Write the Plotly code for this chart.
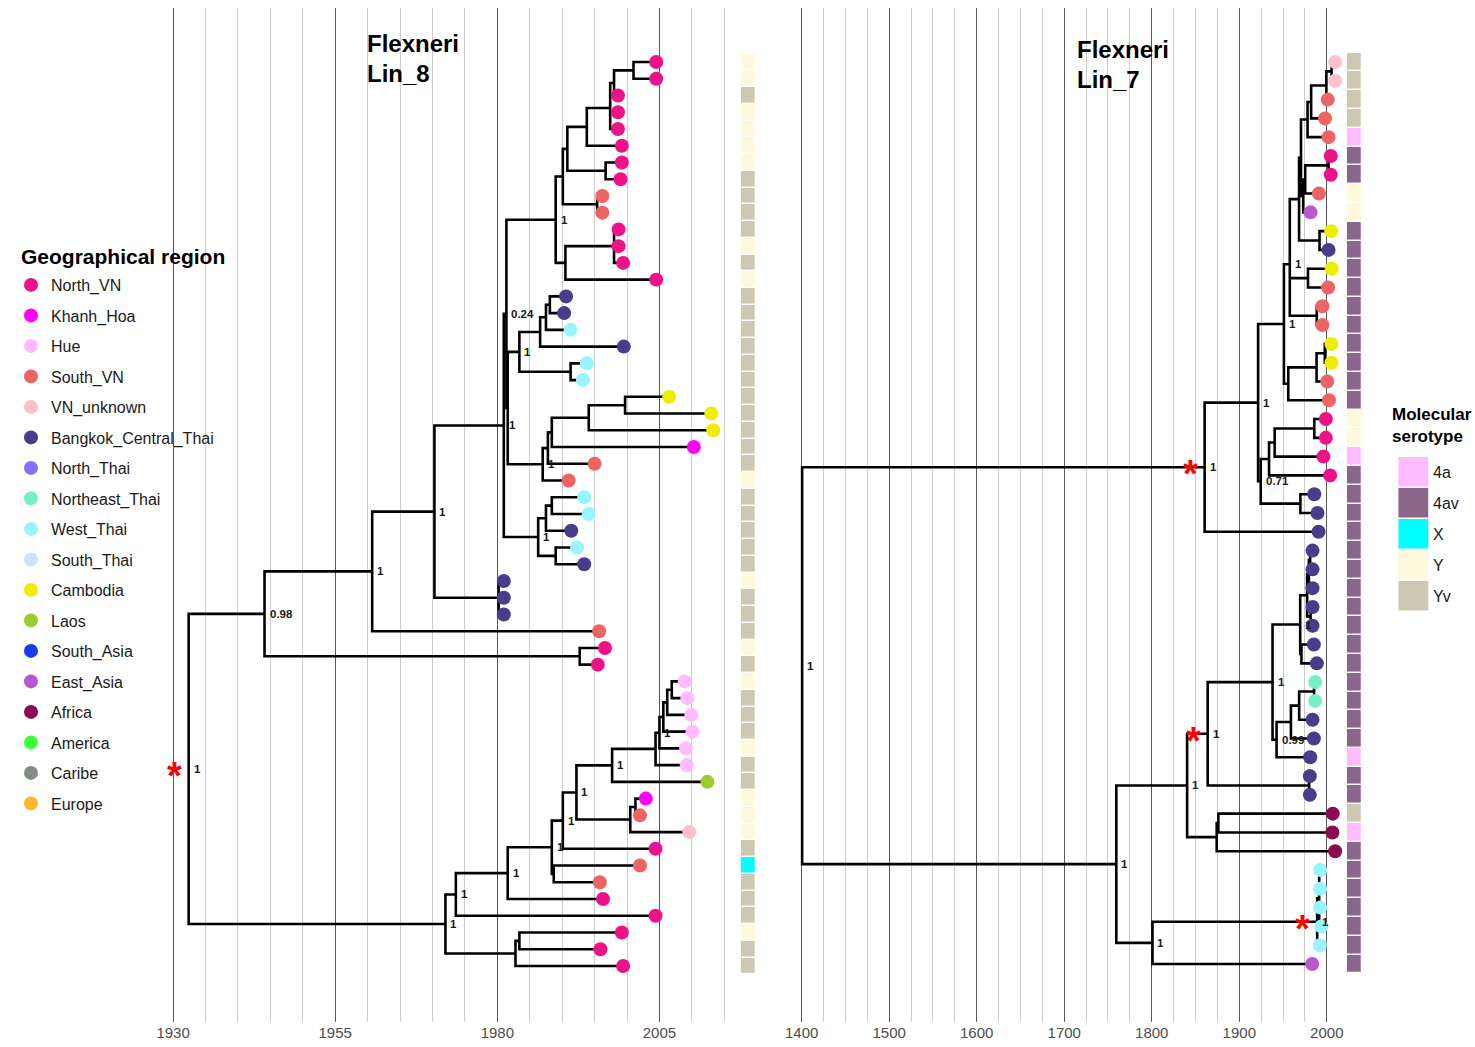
import plotly.graph_objects as go

# ---------------- data: Lin_8 (left tree) ----------------
lin8_region = [
    "North_VN", "North_VN", "North_VN", "North_VN", "North_VN", "North_VN", "North_VN", "North_VN",
    "South_VN", "South_VN", "North_VN", "North_VN", "North_VN", "North_VN",
    "Bangkok_Central_Thai", "Bangkok_Central_Thai", "West_Thai", "Bangkok_Central_Thai",
    "West_Thai", "West_Thai", "Cambodia", "Cambodia", "Cambodia", "Khanh_Hoa", "South_VN", "South_VN",
    "West_Thai", "West_Thai", "Bangkok_Central_Thai", "West_Thai", "Bangkok_Central_Thai",
    "Bangkok_Central_Thai", "Bangkok_Central_Thai", "Bangkok_Central_Thai", "South_VN",
    "North_VN", "North_VN", "Hue", "Hue", "Hue", "Hue", "Hue", "Hue", "Laos", "Khanh_Hoa",
    "South_VN", "VN_unknown", "North_VN", "South_VN", "South_VN", "North_VN", "North_VN",
    "North_VN", "North_VN", "North_VN"]
lin8_date = [
    2004.5, 2004.5, 1998.6, 1998.6, 1998.6, 1999.2, 1999.2, 1999.0, 1996.2, 1996.2,
    1998.7, 1998.7, 1999.4, 2004.5, 1990.6, 1990.3, 1991.3, 1999.5, 1993.8, 1993.2,
    2006.5, 2013.0, 2013.3, 2010.3, 1995.0, 1991.0, 1993.4, 1994.1, 1991.4, 1992.3,
    1993.4, 1981.0, 1981.0, 1981.0, 1995.7, 1996.6, 1995.5, 2008.9, 2009.3, 2009.9,
    2010.1, 2009.1, 2009.2, 2012.4, 2002.9, 2002.0, 2009.6, 2004.4, 2002.0, 1995.8,
    1996.3, 2004.4, 1999.2, 1995.9, 1999.4]
lin8_sero = [
    "Y", "Y", "Yv", "Y", "Y", "Y", "Y", "Yv", "Yv", "Yv", "Yv", "Y", "Yv", "Y", "Yv",
    "Yv", "Yv", "Yv", "Yv", "Yv", "Yv", "Yv", "Yv", "Yv", "Yv", "Y", "Yv", "Yv", "Yv",
    "Yv", "Yv", "Y", "Yv", "Yv", "Yv", "Y", "Yv", "Y", "Yv", "Yv", "Yv", "Y", "Yv",
    "Yv", "Y", "Y", "Y", "Yv", "X", "Yv", "Yv", "Yv", "Y", "Yv", "Yv"]
lin8_node_name = ["n1", "n2", "n3", "n4", "n5", "n6", "n7", "n8", "n9", "n10", "n11",
                  "p1", "p2", "p3", "p4", "p5", "q1", "q2", "q3", "q4", "q5",
                  "r1", "r2", "r3", "r4", "x1", "x2", "x3", "bk", "T", "U", "W", "V",
                  "h1", "h2", "h3", "h4", "h5", "h6", "k1", "k2", "k3", "k4", "k5", "k6",
                  "k7", "k8", "m1", "m2", "B", "root"]
lin8_node_time = [2001.0, 1998.0, 1997.4, 1993.8, 1996.7, 1990.8, 1995.4, 1990.1, 1998.0, 1990.5, 1989.0,
                  1988.1, 1987.5, 1986.6, 1991.3, 1983.4, 1999.7, 1994.1, 1988.4, 1987.8, 1987.0,
                  1988.4, 1987.5, 1989.0, 1986.3, 1981.6, 1981.4, 1981.0, 1980.2, 1970.3, 1960.7, 1992.7, 1944.1,
                  2006.9, 2006.2, 2005.6, 2005.0, 2004.4, 1997.7, 2001.3, 2000.5, 1992.2, 1990.1, 1988.7, 1988.4,
                  1981.6, 1973.6, 1983.4, 1982.8, 1972.0, 1932.4]
lin8_node_children = ["t1 t2", "n1 t3", "n2 t4 t5", "n3 t6", "t7 t8", "n4 n5", "t9 t10", "n6 n7",
                      "t11 t12 t13", "n9 t14", "n8 n10",
                      "t15 t16", "p1 t17", "p2 t18", "t19 t20", "p3 p4", "t21 t22", "q1 t23", "q2 t24",
                      "q3 t25", "q4 t26", "t27 t28", "r1 t29", "t30 t31", "r2 r3", "p5 q5", "n11 x1",
                      "x2 r4", "t32 t33 t34", "x3 bk", "T t35", "t36 t37", "U W",
                      "t38 t39", "h1 t40", "h2 t41", "h3 t42", "h4 t43", "h5 t44", "t45 t46", "k1 t47",
                      "h6 k2", "k3 t48", "t49 t50", "k4 k5", "k6 t51", "k7 t52", "t53 t54", "m1 t55",
                      "k8 m2", "V B"]
lin8_node_support = ["", "", "", "", "", "", "", "", "", "", "1",
                     "", "", "", "", "1", "", "", "", "", "1",
                     "", "", "", "1", "", "0.24", "1", "", "1", "1", "", "0.98",
                     "", "", "", "1", "", "1", "", "", "1", "1", "", "1",
                     "1", "1", "", "", "1", "1"]
lin8_star_nodes = ["root"]

# ---------------- data: Lin_7 (right tree) ----------------
lin7_region = [
    "VN_unknown", "VN_unknown", "South_VN", "South_VN", "South_VN", "North_VN", "North_VN",
    "South_VN", "East_Asia", "Cambodia", "Bangkok_Central_Thai", "Cambodia", "South_VN",
    "South_VN", "South_VN", "Cambodia", "Cambodia", "South_VN", "South_VN", "North_VN",
    "North_VN", "North_VN", "North_VN", "Bangkok_Central_Thai", "Bangkok_Central_Thai",
    "Bangkok_Central_Thai", "Bangkok_Central_Thai", "Bangkok_Central_Thai",
    "Bangkok_Central_Thai", "Bangkok_Central_Thai", "Bangkok_Central_Thai",
    "Bangkok_Central_Thai", "Bangkok_Central_Thai", "Northeast_Thai", "Northeast_Thai",
    "Bangkok_Central_Thai", "Bangkok_Central_Thai", "Bangkok_Central_Thai",
    "Bangkok_Central_Thai", "Bangkok_Central_Thai", "Africa", "Africa", "Africa",
    "West_Thai", "West_Thai", "West_Thai", "West_Thai", "West_Thai", "East_Asia"]
lin7_date = [
    2009.6, 2009.6, 2001.1, 1998.0, 2002.0, 2004.5, 2004.5, 1991.0, 1981.4, 2005.0,
    2002.0, 2005.5, 2001.5, 1995.0, 1995.0, 2005.3, 2005.3, 2000.5, 2002.5, 1998.9,
    1998.9, 1996.2, 2003.8, 1985.7, 1989.4, 1990.6, 1983.7, 1983.7, 1983.7, 1983.7,
    1983.7, 1985.2, 1988.6, 1986.7, 1986.7, 1983.7, 1985.2, 1981.0, 1980.6, 1980.6,
    2006.8, 2006.4, 2009.5, 1992.4, 1992.4, 1992.4, 1993.6, 1992.0, 1983.3]
lin7_sero = [
    "Yv", "Yv", "Yv", "Yv", "4a", "4av", "4av", "Y", "Y", "4av", "4av", "4av", "4av",
    "4av", "4av", "4av", "4av", "4av", "4av", "Y", "Y", "4a", "4av", "4av", "4av", "4av",
    "4av", "4av", "4av", "4av", "4av", "4av", "4av", "4av", "4av", "4av", "4av", "4a",
    "4av", "4av", "Yv", "4a", "4av", "4av", "4av", "4av", "4av", "4av", "4av"]
lin7_node_name = ["A1", "A2", "A3", "A4", "A5", "A6", "A7", "A8", "B1", "B2", "C1", "C2", "X",
                  "D1", "D2", "D3", "D4", "E1", "E2", "E3", "E4", "E5", "F", "G",
                  "La0", "La1", "La2", "La", "Lb", "L", "M1", "M2", "M3", "M4", "N", "P", "O",
                  "R1", "R", "Q", "X1", "Xw", "W", "S", "root"]
lin7_node_time = [2005.5, 1999.5, 1982.1, 1978.0, 2002.0, 1975.3, 1973.0, 1970.5, 1991.7, 1968.3,
                  1978.5, 1988.5, 1957.7, 1997.7, 1988.3, 1956.0, 1951.0, 1985.7, 1940.4, 1934.0,
                  1969.8, 1924.5, 1921.5, 1860.4,
                  1981.0, 1979.5, 1981.5, 1977.5, 1971.0, 1969.6, 1985.5, 1968.4, 1959.0, 1942.6,
                  1938.0, 1979.8, 1863.9, 1876.1, 1874.2, 1840.4, 1991.3, 1989.0, 1800.8, 1759.5,
                  1400.5]
lin7_node_children = ["t1 t2", "A1 t3", "A2 t4", "A3 t5", "t6 t7", "A5 t8", "A6 t9", "A4 A7",
                      "t10 t11", "A8 B1", "t12 t13", "t14 t15", "B2 C1 C2", "t16 t17", "D1 t18",
                      "D2 t19", "X D3", "t20 t21", "E1 t22", "E2 t23", "t24 t25", "E3 E4", "D4 E5",
                      "F t26", "t27 t28", "La0 t29", "t30 t31", "La1 La2", "t32 t33", "La Lb",
                      "t34 t35", "M1 t36", "M2 t37", "M3 t38", "L M4", "t39 t40", "N P",
                      "t41 t42", "R1 t43", "O R", "t44 t45 t46 t47", "X1 t48", "Xw t49", "Q W",
                      "G S"]
lin7_node_support = ["", "", "", "", "", "", "", "", "", "", "", "", "1",
                     "", "", "", "1", "", "", "", "", "0.71", "1", "1",
                     "", "", "", "", "", "1", "", "", "", "0.99", "1", "", "1",
                     "", "", "1", "", "1", "1", "1", "1"]
lin7_star_nodes = ["G", "O", "Xw"]

# ---------------- legends ----------------
region_names = ["North_VN", "Khanh_Hoa", "Hue", "South_VN", "VN_unknown", "Bangkok_Central_Thai",
                "North_Thai", "Northeast_Thai", "West_Thai", "South_Thai", "Cambodia", "Laos",
                "South_Asia", "East_Asia", "Africa", "America", "Caribe", "Europe"]
region_colors = ["#EE1289", "#FF00FF", "#FFBBFF", "#EE6363", "#FFC0CB", "#483D8B",
                 "#8470FF", "#76EEC6", "#98F5FF", "#CAE1FF", "#EEEE00", "#9ACD32",
                 "#1C39EE", "#BA55D3", "#8B0A50", "#3CFF3C", "#838B83", "#FBB829"]
sero_names = ["4a", "4av", "X", "Y", "Yv"]
sero_colors = ["#FFBBFF", "#8B668B", "#00FFFF", "#FFF8DC", "#CDC8B1"]

# ---------------- helpers ----------------
W, H = 1475, 1047
FONT = "Liberation Sans, Arial, Helvetica, sans-serif"
region_col = dict(zip(region_names, region_colors))
sero_col = dict(zip(sero_names, sero_colors))


def layout_tree(names, times, children, dates):
    pos = {f"t{i + 1}": (d, i + 1) for i, d in enumerate(dates)}
    nmap = {n: (t, c.split()) for n, t, c in zip(names, times, children)}

    def get(n):
        if n not in pos:
            t, ch = nmap[n]
            ys = [get(c)[1] for c in ch]
            pos[n] = (t, sum(ys) / len(ys))
        return pos[n]

    for n in names:
        get(n)
    xs, ys = [], []
    for n in names:
        t, ch = nmap[n]
        cp = sorted((pos[c] for c in ch), key=lambda p: p[1])
        first, last = cp[0], cp[-1]
        xs += [first[0], t, t, last[0], None]
        ys += [first[1], first[1], last[1], last[1], None]
        for mid in cp[1:-1]:
            xs += [t, mid[0], None]
            ys += [mid[1], mid[1], None]
    return pos, xs, ys


fig = go.Figure()

# legend entries (geographical region)
for r in region_names:
    fig.add_trace(go.Scatter(x=[None], y=[None], mode="markers", name=r, legendgroup=r,
                             marker=dict(size=14, color=region_col[r]), showlegend=True,
                             xaxis="x", yaxis="y"))

panels = [
    ("x", "y", lin8_region, lin8_date, lin8_sero, lin8_node_name, lin8_node_time,
     lin8_node_children, lin8_node_support, lin8_star_nodes, 2017.6, 2.3),
    ("x2", "y2", lin7_region, lin7_date, lin7_sero, lin7_node_name, lin7_node_time,
     lin7_node_children, lin7_node_support, lin7_star_nodes, 2022.7, 17.1),
]

annotations = []
for (xa, ya, reg, dates, sero, names, times, children, support, stars, sbase, swidth) in panels:
    pos, lx, ly = layout_tree(names, times, children, dates)
    tip_y = list(range(1, len(dates) + 1))
    # serotype strip
    fig.add_trace(go.Bar(orientation="h", y=tip_y, x=[swidth] * len(tip_y), base=[sbase] * len(tip_y),
                         width=1.0, marker=dict(color=[sero_col[s] for s in sero],
                                                line=dict(color="white", width=1.2)),
                         showlegend=False, hoverinfo="skip", xaxis=xa, yaxis=ya))
    # branches
    fig.add_trace(go.Scatter(x=lx, y=ly, mode="lines", line=dict(color="black", width=2.6),
                             showlegend=False, hoverinfo="skip", xaxis=xa, yaxis=ya))
    # tips
    for r in region_names:
        idx = [i for i, rr in enumerate(reg) if rr == r]
        if not idx:
            continue
        fig.add_trace(go.Scatter(x=[dates[i] for i in idx], y=[tip_y[i] for i in idx], mode="markers",
                                 marker=dict(size=14, color=region_col[r]), legendgroup=r,
                                 showlegend=False, hoverinfo="skip", xaxis=xa, yaxis=ya))
    # support values
    for n, s in zip(names, support):
        if s:
            annotations.append(dict(x=pos[n][0], y=pos[n][1], xref=xa, yref=ya, text=f"<b>{s}</b>",
                                    showarrow=False, xanchor="left", yanchor="middle", xshift=3,
                                    font=dict(size=11.5, color="#1a1a1a", family=FONT)))
    for n in stars:
        annotations.append(dict(x=pos[n][0], y=pos[n][1], xref=xa, yref=ya, text="<b>*</b>",
                                showarrow=False, xanchor="right", yanchor="middle", xshift=-5, yshift=-7,
                                font=dict(size=38, color="red", family=FONT)))


def px(x):
    return x / W


def py(y):
    return 1 - y / H


# titles
for txt, x0, y0 in [("Flexneri", 359, 44), ("Lin_8", 359, 73), ("Flexneri", 1073, 50), ("Lin_7", 1073, 79)]:
    annotations.append(dict(x=px(x0), y=py(y0), xref="paper", yref="paper", text=f"<b>{txt}</b>",
                            showarrow=False, xanchor="left", yanchor="middle",
                            font=dict(size=24, color="black", family=FONT)))

# geographical region legend title
annotations.append(dict(x=px(11), y=py(256), xref="paper", yref="paper", text="<b>Geographical region</b>",
                        showarrow=False, xanchor="left", yanchor="middle",
                        font=dict(size=21, color="black", family=FONT)))

# serotype legend (drawn manually)
shapes = []
annotations.append(dict(x=px(1390), y=py(403), xref="paper", yref="paper",
                        text="<b>Molecular<br>serotype</b>", showarrow=False, xanchor="left",
                        yanchor="top", align="left", font=dict(size=17, color="black", family=FONT)))
for i, (s, c) in enumerate(zip(sero_names, sero_colors)):
    top = 457 + i * 31
    shapes.append(dict(type="rect", xref="paper", yref="paper", x0=px(1398), x1=px(1428),
                       y0=py(top), y1=py(top + 29.5), fillcolor=c, line=dict(width=0), layer="above"))
    annotations.append(dict(x=px(1431), y=py(top + 15), xref="paper", yref="paper", text=s,
                            showarrow=False, xanchor="left", yanchor="middle",
                            font=dict(size=16, color="#1a1a1a", family=FONT)))

left_major = [1930, 1955, 1980, 2005]
left_minor = [1935, 1940, 1945, 1950, 1960, 1965, 1970, 1975, 1985, 1990, 1995, 2000, 2010, 2015]
right_major = [1400, 1500, 1600, 1700, 1800, 1900, 2000]
right_minor = [y for y in range(1425, 2000, 25) if y % 100 != 0]

ydom = [1 - 1022 / H, 1 - 8 / H]
axis_common = dict(showline=False, zeroline=False, ticks="", showgrid=True, gridcolor="#595959",
                   gridwidth=1, tickfont=dict(size=15, color="#4d4d4d", family=FONT))

fig.update_layout(
    width=W, height=H, margin=dict(l=0, r=0, t=0, b=0),
    paper_bgcolor="white", plot_bgcolor="white", barmode="overlay", bargap=0,
    font=dict(family=FONT),
    xaxis=dict(domain=[px(149.7), px(754.1)], range=[1927.5, 2020.2], tickvals=left_major,
               minor=dict(tickvals=left_minor, showgrid=True, gridcolor="#cccccc", gridwidth=1),
               anchor="y", **axis_common),
    yaxis=dict(domain=ydom, range=[58.345, -2.226], visible=False, anchor="x"),
    xaxis2=dict(domain=[px(789.2), px(1365.6)], range=[1390, 2045], tickvals=right_major,
                minor=dict(tickvals=right_minor, showgrid=True, gridcolor="#cccccc", gridwidth=1),
                anchor="y2", **axis_common),
    yaxis2=dict(domain=ydom, range=[52.087, -1.874], visible=False, anchor="x2"),
    legend=dict(x=px(3), y=py(268), xanchor="left", yanchor="top", bgcolor="rgba(0,0,0,0)",
                font=dict(size=16, color="#1a1a1a", family=FONT), tracegroupgap=6.7, itemsizing="trace"),
    annotations=annotations, shapes=shapes,
)

fig.write_html("out.html")
